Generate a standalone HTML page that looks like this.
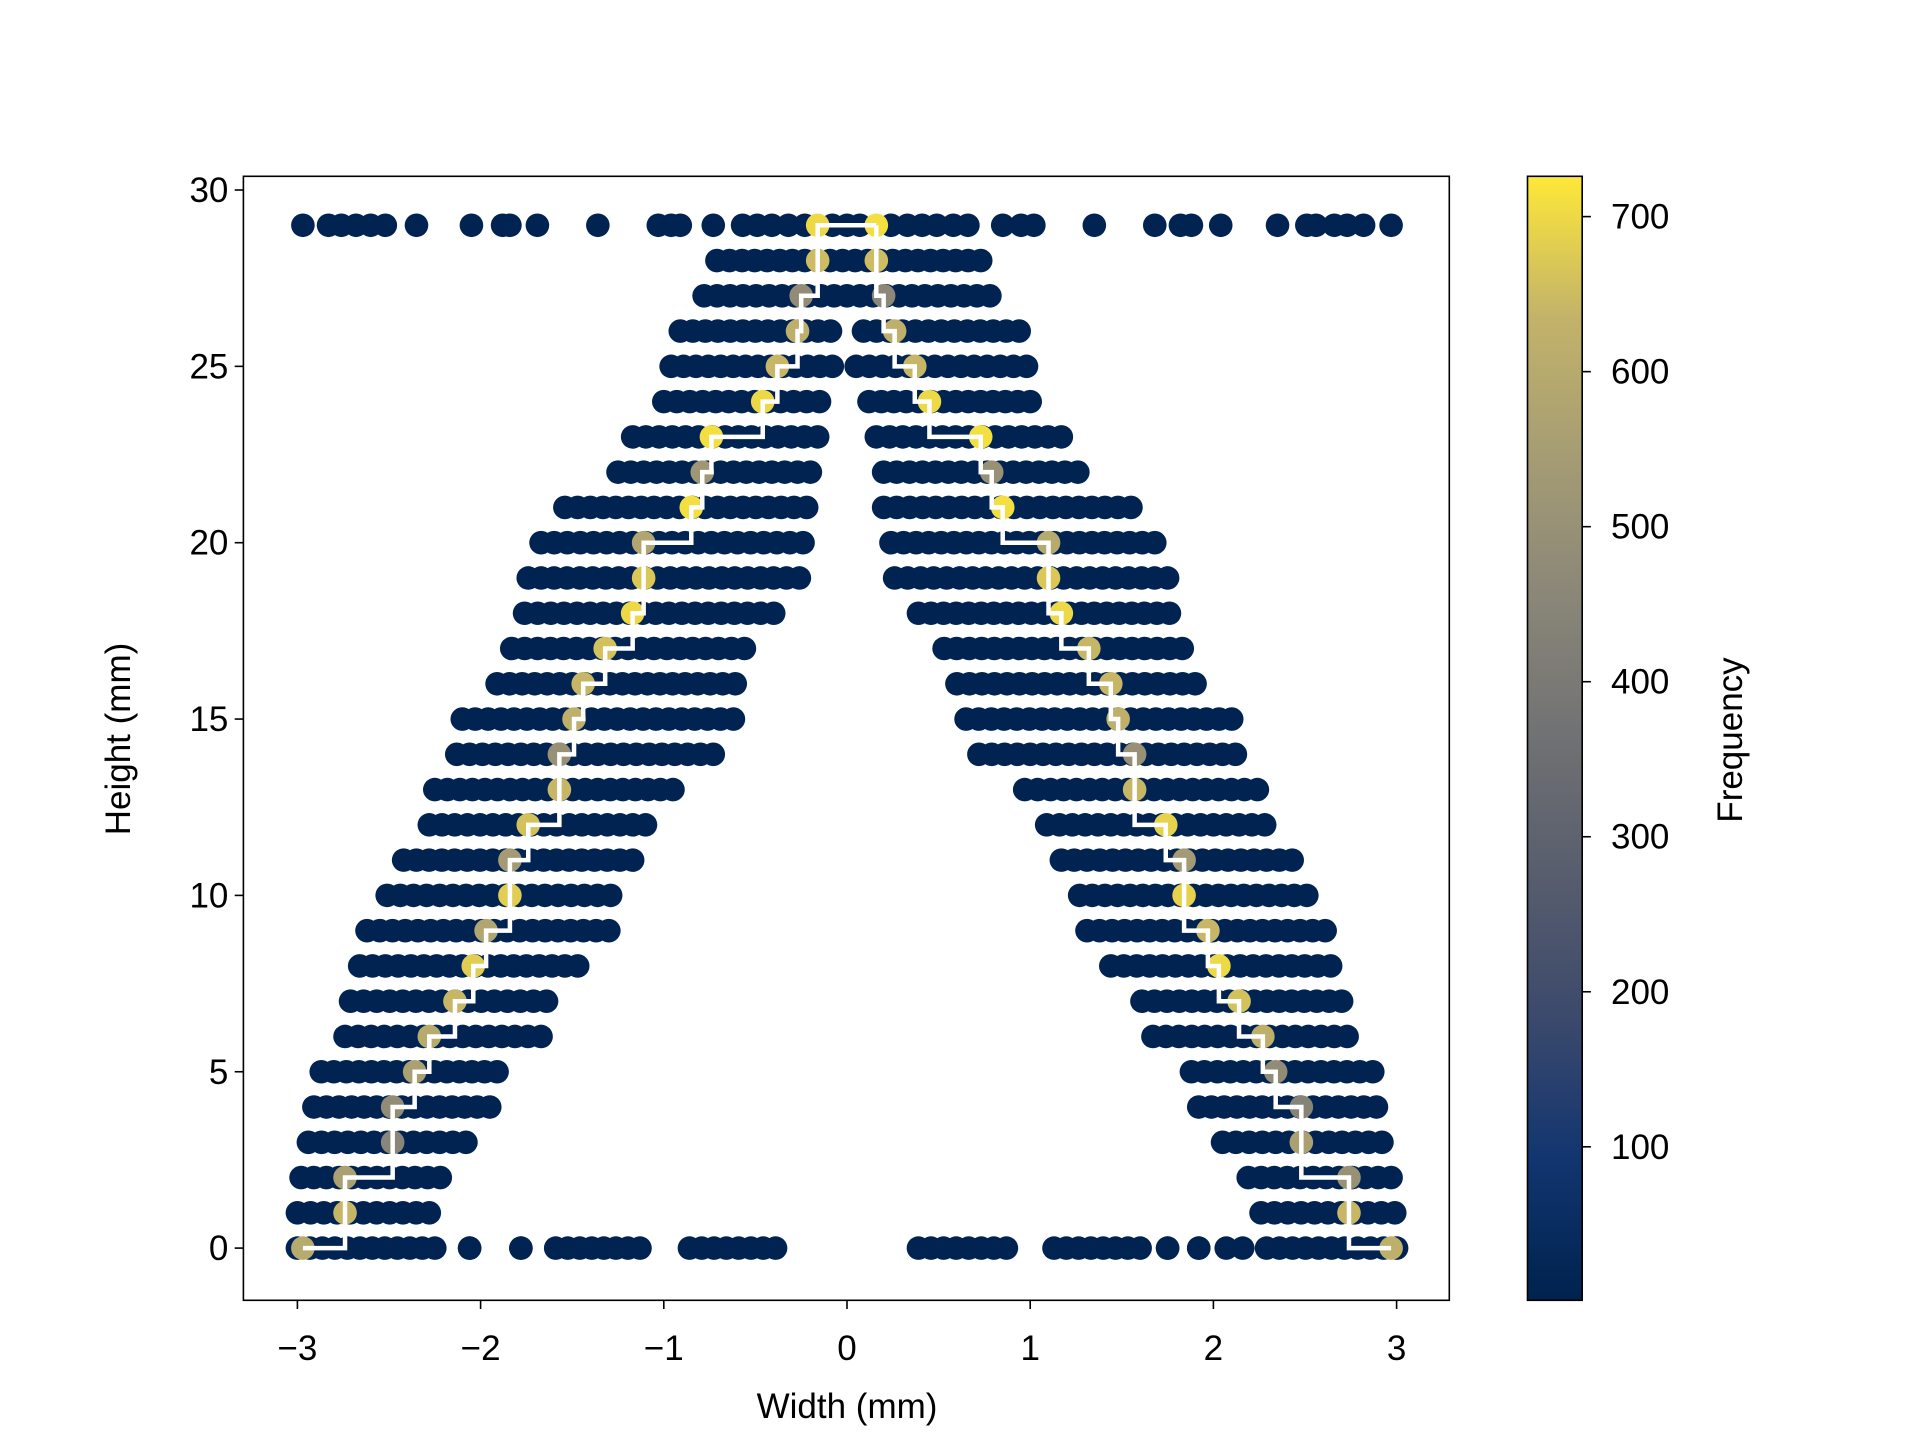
<!DOCTYPE html>
<html><head><meta charset="utf-8"><style>
html,body{margin:0;padding:0;background:#fff}
svg text{font-family:"Liberation Sans","DejaVu Sans",sans-serif;fill:#000}
</style></head><body>
<svg id="chart" width="1920" height="1440" viewBox="0 0 1920 1440" xmlns="http://www.w3.org/2000/svg">
<defs><linearGradient id="cmap" x1="0" y1="1" x2="0" y2="0">
<stop offset="0" stop-color="#00224e"/><stop offset="0.125" stop-color="#123570"/><stop offset="0.25" stop-color="#3b496c"/><stop offset="0.375" stop-color="#575d6d"/><stop offset="0.5" stop-color="#707173"/><stop offset="0.625" stop-color="#8a8678"/><stop offset="0.75" stop-color="#a59c74"/><stop offset="0.875" stop-color="#c3b369"/><stop offset="1" stop-color="#fee838"/>
</linearGradient>
<clipPath id="plotclip"><rect x="243.4" y="176.3" width="1205.9" height="1124"/></clipPath></defs>
<g id="marks" clip-path="url(#plotclip)"></g>
<g id="axes"></g>
</svg>
<script>
// background rows: [height, segments [start,end] in mm]
const rowHeights = [0,1,2,3,4,5,6,7,8,9,10,11,12,13,14,15,16,17,18,19,20,21,22,23,24,25,26,27,28];
const rowSegments = [
 [[-3.0,-2.25],[-2.06,-2.06],[-1.78,-1.78],[-1.59,-1.13],[-0.86,-0.39],[0.39,0.87],[1.13,1.60],[1.75,1.75],[1.92,1.92],[2.07,2.16],[2.29,3.0]],
 [[-3.00,-2.28],[2.26,2.99]],[[-2.98,-2.22],[2.19,2.97]],[[-2.94,-2.08],[2.05,2.92]],[[-2.91,-1.95],[1.92,2.89]],
 [[-2.87,-1.91],[1.88,2.87]],[[-2.74,-1.67],[1.67,2.73]],[[-2.71,-1.64],[1.61,2.70]],[[-2.66,-1.47],[1.44,2.64]],
 [[-2.62,-1.30],[1.31,2.61]],[[-2.51,-1.29],[1.27,2.51]],[[-2.42,-1.17],[1.17,2.43]],[[-2.28,-1.10],[1.09,2.28]],
 [[-2.25,-0.95],[0.97,2.24]],[[-2.13,-0.73],[0.72,2.12]],[[-2.10,-0.62],[0.65,2.10]],[[-1.91,-0.61],[0.60,1.90]],
 [[-1.83,-0.56],[0.53,1.83]],[[-1.76,-0.40],[0.39,1.76]],[[-1.74,-0.26],[0.26,1.75]],[[-1.67,-0.24],[0.24,1.68]],
 [[-1.54,-0.22],[0.20,1.55]],[[-1.25,-0.20],[0.20,1.26]],[[-1.17,-0.16],[0.16,1.17]],[[-1.00,-0.15],[0.12,1.00]],
 [[-0.96,-0.08],[0.05,0.98]],[[-0.91,-0.09],[0.09,0.94]],[[-0.78,0.78]],[[-0.71,0.73]]
];
const topRowX = [-2.97,-2.83,-2.76,-2.68,-2.60,-2.52,-2.35,-2.05,-1.88,-1.84,-1.69,-1.36,-1.03,-0.96,-0.91,-0.73,-0.57,-0.49,-0.41,-0.32,-0.23,-0.08,0,0.07,0.24,0.33,0.41,0.49,0.58,0.66,0.85,0.95,1.02,1.35,1.68,1.82,1.88,2.04,2.35,2.51,2.56,2.66,2.73,2.82,2.97];
const bgFreq = 8;
// peak points per height 0..29
const peakY = [0,1,2,3,4,5,6,7,8,9,10,11,12,13,14,15,16,17,18,19,20,21,22,23,24,25,26,27,28,29];
const leftX = [-2.97,-2.74,-2.74,-2.48,-2.48,-2.36,-2.28,-2.14,-2.04,-1.97,-1.84,-1.84,-1.74,-1.57,-1.57,-1.49,-1.44,-1.32,-1.17,-1.11,-1.11,-0.85,-0.79,-0.74,-0.46,-0.38,-0.27,-0.25,-0.16,-0.16];
const leftF = [600,640,560,450,480,560,600,640,680,580,680,540,660,640,500,620,640,660,700,670,580,710,520,710,700,640,620,480,650,700];
const rightX = [2.97,2.74,2.74,2.48,2.48,2.34,2.27,2.14,2.03,1.97,1.84,1.84,1.74,1.57,1.57,1.48,1.44,1.32,1.17,1.10,1.10,0.85,0.79,0.73,0.45,0.37,0.26,0.20,0.16,0.16];
const rightF = [620,640,500,560,440,480,620,660,700,640,690,540,690,640,500,620,640,640,700,670,600,710,500,710,700,640,620,460,650,710];
const xTicks = [-3,-2,-1,0,1,2,3];
const yTicks = [0,5,10,15,20,25,30];
const cTicks = [100,200,300,400,500,600,700];

const NS='http://www.w3.org/2000/svg';
const X0=243.4,X1=1449.3,Y0=176.3,Y1=1300.3;
const sx=v=>847+v*183.2, sy=v=>1248.1-v*35.27;
const CMIN=1,CMAX=726, CY=v=>Y1-(v-CMIN)/(CMAX-CMIN)*(Y1-Y0);
const stops=[[0,0,34,78],[0.125,18,53,112],[0.25,59,73,108],[0.375,87,93,109],[0.5,112,113,115],[0.625,138,134,120],[0.75,165,156,116],[0.875,195,179,105],[1,254,232,56]];
function cmap(v){let t=Math.max(0,Math.min(1,(v-CMIN)/(CMAX-CMIN)));for(let i=1;i<stops.length;i++){if(t<=stops[i][0]){const a=stops[i-1],b=stops[i],f=(t-a[0])/(b[0]-a[0]);return `rgb(${[1,2,3].map(k=>Math.round(a[k]+(b[k]-a[k])*f)).join(',')})`;}}return 'rgb(254,232,56)';}
function mk(tag,attrs,parent){const e=document.createElementNS(NS,tag);for(const k in attrs)e.setAttribute(k,attrs[k]);parent.appendChild(e);return e;}
const marks=document.getElementById('marks'),axes=document.getElementById('axes');
const R=11.8;
function dot(x,y,f){const c=mk('circle',{cx:sx(x),cy:sy(y),r:R,fill:cmap(f)},marks);

}
rowHeights.forEach((h,i)=>{rowSegments[i].forEach(s=>{const n=Math.max(1,Math.round((s[1]-s[0])/0.07));for(let k=0;k<=n;k++){dot(n?s[0]+(s[1]-s[0])*k/n:s[0],h,bgFreq);}});});
topRowX.forEach(x=>dot(x,29,bgFreq));
peakY.forEach((y,i)=>{dot(leftX[i],y,leftF[i]);dot(rightX[i],y,rightF[i]);});
// step line
function steps(xs){let d=`M${sx(xs[0])},${sy(peakY[0])}`;for(let i=1;i<xs.length;i++){d+=` L${sx(xs[i])},${sy(peakY[i-1])} L${sx(xs[i])},${sy(peakY[i])}`;}return d;}
const n=peakY.length-1;
const l1=mk('path',{d:steps(leftX)+` L${sx(rightX[n])},${sy(peakY[n])}`,fill:'none',stroke:'#fff','stroke-width':4.5},marks);


const l2=mk('path',{d:steps(rightX),fill:'none',stroke:'#fff','stroke-width':4.5},marks);


// axes frame
const fr=mk('rect',{x:X0,y:Y0,width:X1-X0,height:Y1-Y0,fill:'none',stroke:'#000','stroke-width':1.6},axes);


xTicks.forEach(v=>{mk('line',{x1:sx(v),x2:sx(v),y1:Y1,y2:Y1+8.7,stroke:'#000','stroke-width':1.6},axes);
const t=mk('text',{x:sx(v),y:1360,'font-size':35,'text-anchor':'middle'},axes);t.textContent=String(v).replace('-','\u2212');

});
yTicks.forEach(v=>{mk('line',{x1:X0,x2:X0-8.7,y1:sy(v),y2:sy(v),stroke:'#000','stroke-width':1.6},axes);
const t=mk('text',{x:X0-15,y:sy(v)+12,'font-size':35,'text-anchor':'end'},axes);t.textContent=v;

});
// colorbar
const cb=mk('rect',{x:1527.5,y:Y0,width:54.7,height:Y1-Y0,fill:'url(#cmap)',stroke:'#000','stroke-width':1.6},axes);


cTicks.forEach(v=>{mk('line',{x1:1582.2,x2:1590.9,y1:CY(v),y2:CY(v),stroke:'#000','stroke-width':1.6},axes);
const t=mk('text',{x:1611,y:CY(v)+12,'font-size':35},axes);t.textContent=v;

});
</script>
<svg style="position:absolute;left:0;top:0" width="1920" height="1440">
<text x="847" y="1418" font-size="35" text-anchor="middle">Width (mm)</text>
<text transform="translate(130,739) rotate(-90)" font-size="35" text-anchor="middle">Height (mm)</text>
<text transform="translate(1742,740) rotate(-90)" font-size="35" text-anchor="middle">Frequency</text>
</svg>
</body></html>
